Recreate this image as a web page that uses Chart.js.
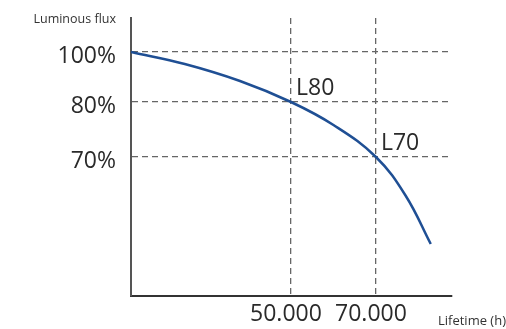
<!DOCTYPE html>
<html lang="en">
<head>
<meta charset="UTF-8">
<title>Luminous flux vs lifetime</title>
<script src="https://cdn.jsdelivr.net/npm/chart.js@4.4.0/dist/chart.umd.min.js"></script>
<style>
*{margin:0;padding:0;box-sizing:border-box}
body{background:#fff;width:506px;height:329px;overflow:hidden}
#wrap{position:relative;width:506px;height:329px}
</style>
</head>
<body>
<div id="wrap"><canvas id="c"></canvas></div>
<script>
// lifetime in thousands of hours (schematic axis), flux in plot units
const lifetime = [12.35, 25, 38, 50, 60, 70, 77, 82.9];
const flux = [100, 95.2, 88.4, 80, 70.8, 58, 42.5, 23.2];

const xTickValues = [50, 70];
const xTickLabels = ["50.000", "70.000"];
const yTickValues = [100, 80, 58];
const yTickLabels = ["100%", "80%", "70%"];

const markers = [
  { x: 50, y: 80, text: "L80" },
  { x: 70, y: 58, text: "L70" }
];

const FONT = "'Open Sans', 'Noto Sans', sans-serif";

const annot = {
  id: "annot",
  afterDraw(chart) {
    const { ctx, scales: { x, y } } = chart;
    ctx.save();
    ctx.fillStyle = "#2a2a2a";
    ctx.textBaseline = "alphabetic";
    ctx.font = "23px " + FONT;
    ctx.textAlign = "left";
    markers.forEach(m => ctx.fillText(m.text, x.getPixelForValue(m.x) + 5, y.getPixelForValue(m.y) - 7));
    ctx.font = "12.5px " + FONT;
    ctx.fillStyle = "#333";
    ctx.textAlign = "right";
    ctx.fillText("Luminous flux", 116, 23);
    ctx.textAlign = "left";
    ctx.font = "13px " + FONT;
    ctx.fillText("Lifetime (h)", 438, 325);
    ctx.restore();
  }
};

new Chart(document.getElementById("c"), {
  type: "line",
  data: {
    datasets: [{
      data: lifetime.map((v, i) => ({ x: v, y: flux[i] })),
      borderColor: "#1f4f94",
      borderWidth: 2.5,
      pointRadius: 0,
      tension: 0.4,
      fill: false
    }]
  },
  options: {
    responsive: true, maintainAspectRatio: false, animation: false,
    layout: { padding: { left: 0, top: 18, right: 54, bottom: 0 } },
    plugins: { legend: { display: false }, tooltip: { enabled: false } },
    scales: {
      x: {
        type: "linear", min: 12.35, max: 87.9,
        afterFit: s => { s.height = 33; s.paddingLeft = 0; s.paddingRight = 0; },
        afterBuildTicks: s => { s.ticks = xTickValues.map(v => ({ value: v })); },
        grid: { color: "#666", lineWidth: 1.3, drawTicks: false },
        border: { display: true, color: "#333", width: 2, dash: [6, 4] },
        ticks: {
          color: "#2a2a2a", padding: 5, labelOffset: -5, maxRotation: 0,
          font: { family: FONT, size: 23 },
          callback: v => xTickLabels[xTickValues.indexOf(v)]
        }
      },
      y: {
        type: "linear", min: 2.4, max: 113.6,
        afterFit: s => { s.width = 131; s.paddingTop = 0; s.paddingBottom = 0; },
        afterBuildTicks: s => { s.ticks = yTickValues.map(v => ({ value: v })); },
        grid: { color: "#666", lineWidth: 1.3, drawTicks: false },
        border: { display: true, color: "#555", width: 2, dash: [6, 4] },
        ticks: {
          color: "#2a2a2a", padding: 15, labelOffset: 4,
          font: { family: FONT, size: 23 },
          callback: v => yTickLabels[yTickValues.indexOf(v)]
        }
      }
    }
  },
  plugins: [annot]
});
</script>
</body>
</html>
